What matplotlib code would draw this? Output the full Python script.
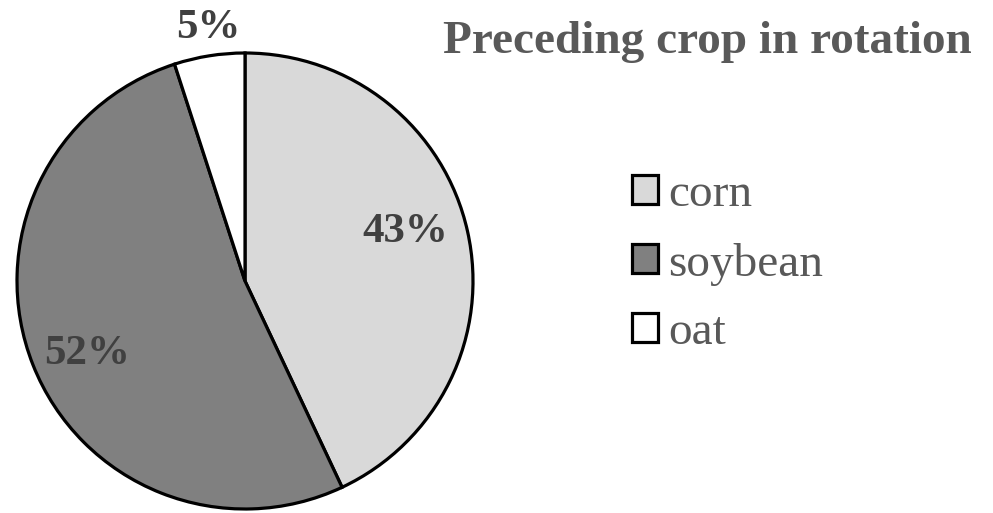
import numpy as np
import matplotlib
matplotlib.use("Agg")
import matplotlib.pyplot as plt

# datos del grafico
cultivos = ["corn", "soybean", "oat"]
porcentajes = [43, 52, 5]
etiquetas = ["43%", "52%", "5%"]
titulo = "Preceding crop in rotation"

colores = ["#d9d9d9", "#808080", "#ffffff"]
# posicion de las etiquetas: radio y giro (grados) respecto al centro de la cuna
radios_etiqueta = [0.735, 0.765, 1.12]
giros_etiqueta = [4.5, 3.2, -0.7]
gris_texto = "#595959"
gris_etiqueta = "#404040"

plt.rcParams["font.family"] = ["Liberation Serif", "DejaVu Serif"]

fig = plt.figure(figsize=(9.93, 5.13), dpi=100)
# eje cuadrado en pixeles: centro (245, 281), radio 228
ax = fig.add_axes([17 / 993, (513 - 281 - 228) / 513, 456 / 993, 456 / 513])
wedges, _ = ax.pie(porcentajes, colors=colores, startangle=90, counterclock=False,
                   radius=1.0, wedgeprops=dict(edgecolor="black", linewidth=2.3))
ax.set_xlim(-1, 1)
ax.set_ylim(-1, 1)
ax.set_aspect("equal")
ax.axis("off")

for w, txt, r, g in zip(wedges, etiquetas, radios_etiqueta, giros_etiqueta):
	ang = np.deg2rad((w.theta1 + w.theta2) / 2.0 + g)
	ax.text(r * np.cos(ang), r * np.sin(ang), txt, ha="center", va="center",
	        fontsize=31, fontweight="bold", color=gris_etiqueta, clip_on=False)

fig.text(707 / 993, 1 - 42 / 513, titulo, ha="center", va="center",
         fontsize=34, fontweight="bold", color=gris_texto)

leg = fig.legend(wedges, cultivos, loc="center left", bbox_to_anchor=(632 / 993, 1 - 264 / 513),
                 frameon=False, fontsize=34, handlelength=0.56, handleheight=0.56,
                 handletextpad=0.2, labelspacing=0.56, borderpad=0, borderaxespad=0)
for t in leg.get_texts():
	t.set_color(gris_texto)

fig.savefig("out.png", dpi=100)
